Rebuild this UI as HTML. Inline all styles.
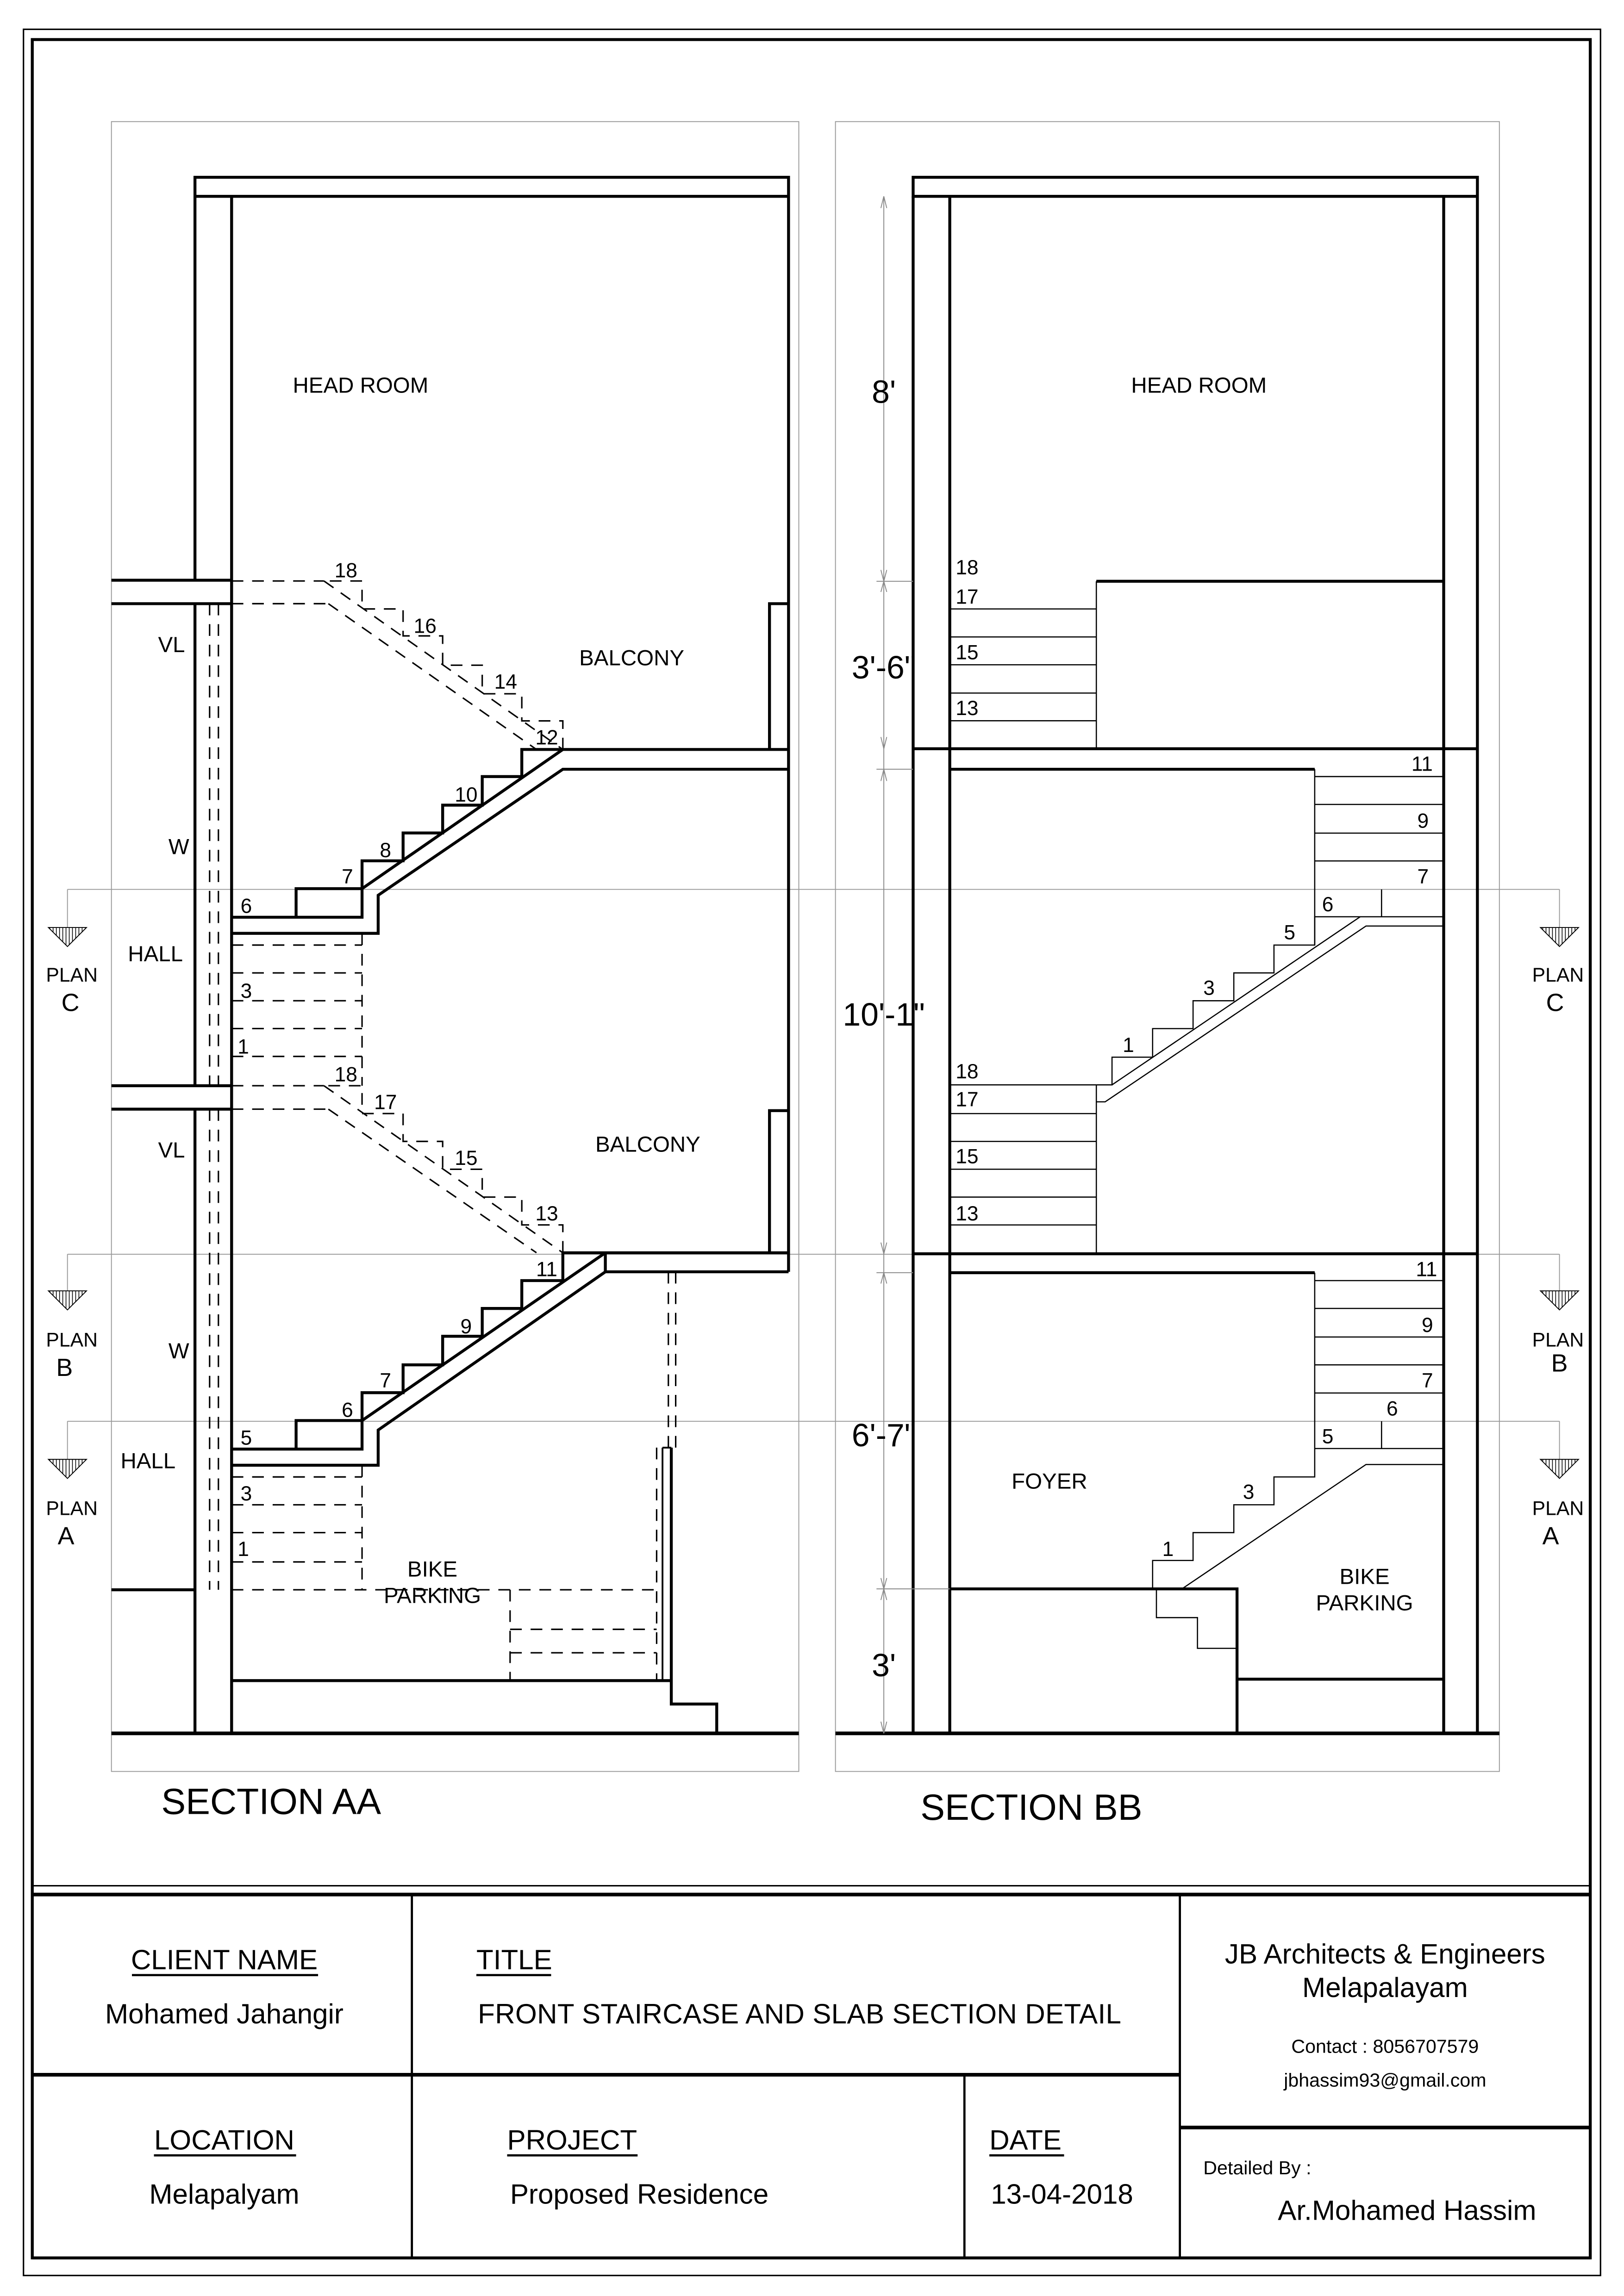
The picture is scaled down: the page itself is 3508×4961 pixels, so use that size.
<!DOCTYPE html>
<html><head><meta charset="utf-8"><style>
html,body{margin:0;padding:0;background:#fff}
svg{display:block}
text{font-family:"Liberation Sans",Arial,sans-serif;fill:#000}
</style></head><body>
<svg width="3508" height="4961" viewBox="0 0 1108 1567" xmlns="http://www.w3.org/2000/svg">
<defs>
<pattern id="h" width="2.2" height="10" patternUnits="userSpaceOnUse"><line x1="1" y1="0" x2="1" y2="10" stroke="#000" stroke-width="0.5"/></pattern>
</defs>
<rect width="1108" height="1567" fill="#fff"/>
<g fill="none" stroke="#000">
<rect x="16" y="20" width="1076" height="1533" stroke-width="1"/>
<rect x="22" y="27" width="1063" height="1514" stroke-width="2"/>
<line x1="22" y1="1287" x2="1085" y2="1287" stroke-width="1"/>
<line x1="22" y1="1293" x2="1085" y2="1293" stroke-width="2.5"/>
<line x1="22" y1="1416" x2="805" y2="1416" stroke-width="2.5"/>
<line x1="805" y1="1452" x2="1085" y2="1452" stroke-width="2.5"/>
<line x1="281" y1="1293" x2="281" y2="1541" stroke-width="1.5"/>
<line x1="805" y1="1293" x2="805" y2="1541" stroke-width="1.5"/>
<line x1="658" y1="1416" x2="658" y2="1541" stroke-width="1.5"/>
<line x1="22" y1="1541" x2="1085" y2="1541" stroke-width="2"/>
</g>
<g fill="none" stroke="#999" stroke-width="0.6">
<rect x="76" y="83" width="469" height="1126"/>
<rect x="570" y="83" width="453" height="1126"/>
<line x1="46" y1="607" x2="1064" y2="607"/>
<line x1="46" y1="856" x2="1064" y2="856"/>
<line x1="46" y1="970" x2="1064" y2="970"/>
<line x1="46" y1="607" x2="46" y2="633"/><line x1="46" y1="856" x2="46" y2="881"/><line x1="46" y1="970" x2="46" y2="996"/>
<line x1="1064" y1="607" x2="1064" y2="633"/><line x1="1064" y1="856" x2="1064" y2="881"/><line x1="1064" y1="970" x2="1064" y2="996"/>
</g>
<g stroke="#000" stroke-width="0.6" fill="url(#h)">
<polygon points="33,633 59,633 46,646"/><polygon points="33,881 59,881 46,894"/><polygon points="33,996 59,996 46,1009"/>
<polygon points="1051,633 1077,633 1064,646"/><polygon points="1051,881 1077,881 1064,894"/><polygon points="1051,996 1077,996 1064,1009"/>
</g>
<g font-size="13.5" text-anchor="middle">
<text x="49" y="670">PLAN</text><text x="49" y="919">PLAN</text><text x="49" y="1034">PLAN</text>
<text x="1063" y="670">PLAN</text><text x="1063" y="919">PLAN</text><text x="1063" y="1034">PLAN</text>
</g>
<g font-size="17" text-anchor="middle">
<text x="48" y="690">C</text><text x="44" y="939">B</text><text x="45" y="1054">A</text>
<text x="1061" y="690">C</text><text x="1064" y="936">B</text><text x="1058" y="1054">A</text>
</g>

<g fill="none" stroke="#000" stroke-width="2">
<rect x="133" y="121" width="405" height="13"/>
<line x1="133" y1="134" x2="133" y2="396"/><line x1="133" y1="412" x2="133" y2="741"/><line x1="133" y1="757" x2="133" y2="1183"/>
<line x1="158" y1="134" x2="158" y2="1183"/>
<line x1="538" y1="134" x2="538" y2="868"/>
<line x1="76" y1="396" x2="158" y2="396"/><line x1="76" y1="412" x2="158" y2="412"/>
<line x1="76" y1="741" x2="158" y2="741"/><line x1="76" y1="757" x2="158" y2="757"/>
<line x1="76" y1="1085" x2="133" y2="1085"/>
<line x1="76" y1="1183" x2="545" y2="1183" stroke-width="2.5"/>
<polyline points="525,511.5 525,412 538,412"/>
<polyline points="525,855 525,758 538,758"/>
<polyline points="158,626 247,626 247,587.5 275,587.5 275,568.5 302,568.5 302,549.5 329,549.5 329,530 356,530 356,511.5 538,511.5"/>
<polyline points="202,626 202,606.5 247,606.5"/>
<line x1="247" y1="606.5" x2="384" y2="511.5"/>
<polyline points="158,637 258,637 258,611 384,525 538,525"/>
<polyline points="158,989 247,989 247,950.5 275,950.5 275,931.5 302,931.5 302,912 329,912 329,893 356,893 356,874 384,874 384,855 538,855"/>
<polyline points="202,989 202,969.5 247,969.5"/>
<line x1="247" y1="969.5" x2="413" y2="855"/>
<polyline points="158,1000 258,1000 258,976 413,868 538,868"/>
<line x1="413" y1="855" x2="413" y2="868"/>
<line x1="158" y1="1147" x2="458" y2="1147"/>
<polyline points="458,988 458,1163 489,1163 489,1183"/>
<line x1="452" y1="988" x2="452" y2="1147" stroke-width="1.2"/>
<line x1="452" y1="988" x2="458" y2="988" stroke-width="1.2"/>
</g>
<g fill="none" stroke="#000" stroke-width="1" stroke-dasharray="8,6">
<line x1="158" y1="396.5" x2="221" y2="396.5"/><line x1="158" y1="412" x2="224" y2="412"/>
<polyline points="384,511.5 384,492 356,492 356,473.5 329,473.5 329,454 302,454 302,434 275,434 275,415.6 247,415.6 247,396.5 221,396.5"/>
<line x1="221" y1="396.5" x2="384" y2="511.5"/><line x1="224" y1="412" x2="366" y2="511.5"/>
<line x1="158" y1="741" x2="221" y2="741"/><line x1="158" y1="757" x2="224" y2="757"/>
<polyline points="384,855 384,836 356,836 356,817 329,817 329,798 302,798 302,779 275,779 275,760 247,760 247,741 221,741"/>
<line x1="221" y1="741" x2="384" y2="855"/><line x1="224" y1="757" x2="366" y2="855"/>
<line x1="158" y1="645" x2="247" y2="645"/><line x1="158" y1="664" x2="247" y2="664"/><line x1="158" y1="683" x2="247" y2="683"/><line x1="158" y1="702" x2="247" y2="702"/><line x1="158" y1="721" x2="247" y2="721"/>
<line x1="247" y1="637" x2="247" y2="741"/>
<line x1="158" y1="1008" x2="247" y2="1008"/><line x1="158" y1="1027" x2="247" y2="1027"/><line x1="158" y1="1046" x2="247" y2="1046"/><line x1="158" y1="1066" x2="247" y2="1066"/>
<line x1="247" y1="1000" x2="247" y2="1085"/>
<line x1="158" y1="1085" x2="448" y2="1085"/>
<line x1="348" y1="1112" x2="448" y2="1112"/><line x1="348" y1="1128" x2="448" y2="1128"/>
<line x1="348" y1="1085" x2="348" y2="1147"/>
<line x1="448" y1="988" x2="448" y2="1147"/>
<line x1="456" y1="868" x2="456" y2="988"/><line x1="461" y1="868" x2="461" y2="988"/>
<line x1="143" y1="412" x2="143" y2="741"/><line x1="149" y1="412" x2="149" y2="741"/>
<line x1="143" y1="757" x2="143" y2="1085"/><line x1="149" y1="757" x2="149" y2="1085"/>
</g>
<g font-size="15" text-anchor="middle">
<text x="246" y="268">HEAD ROOM</text>
<text x="431" y="454">BALCONY</text><text x="442" y="786">BALCONY</text>
<text x="117" y="445">VL</text><text x="117" y="790">VL</text>
<text x="122" y="583">W</text><text x="122" y="927">W</text>
<text x="106" y="656">HALL</text><text x="101" y="1002">HALL</text>
<text x="295" y="1076">BIKE</text><text x="295" y="1094">PARKING</text>
<text x="818" y="268">HEAD ROOM</text>
<text x="716" y="1016">FOYER</text>
<text x="931" y="1081">BIKE</text><text x="931" y="1099">PARKING</text>
</g>
<g font-size="14" text-anchor="middle">
<text x="236" y="394">18</text><text x="290" y="432">16</text><text x="345" y="470">14</text><text x="373" y="508">12</text>
<text x="318" y="547">10</text><text x="263" y="585">8</text><text x="237" y="603">7</text><text x="168" y="623">6</text>
<text x="168" y="681">3</text><text x="166" y="719">1</text>
<text x="236" y="738">18</text><text x="263" y="757">17</text><text x="318" y="795">15</text><text x="373" y="833">13</text>
<text x="373" y="871">11</text><text x="318" y="910">9</text><text x="263" y="947">7</text><text x="237" y="967">6</text><text x="168" y="986">5</text>
<text x="168" y="1024">3</text><text x="166" y="1062">1</text>
</g>

<g fill="none" stroke="#000" stroke-width="2">
<rect x="623" y="121" width="385" height="13"/>
<line x1="623" y1="134" x2="623" y2="1183"/>
<line x1="648" y1="134" x2="648" y2="1183"/>
<line x1="985" y1="134" x2="985" y2="1183"/>
<line x1="1008" y1="134" x2="1008" y2="1183"/>
<line x1="748" y1="396.7" x2="985" y2="396.7"/>
<line x1="623" y1="511" x2="1008" y2="511"/>
<line x1="648" y1="525" x2="897" y2="525"/>
<line x1="623" y1="855.7" x2="1008" y2="855.7"/>
<line x1="648" y1="868.6" x2="897" y2="868.6"/>
<polyline points="648,1084.4 844,1084.4 844,1183"/>
<line x1="844" y1="1146" x2="985" y2="1146"/>
<line x1="570" y1="1183" x2="1023" y2="1183" stroke-width="2.5"/>
</g>
<g fill="none" stroke="#000" stroke-width="0.8">
<line x1="648" y1="415.6" x2="748" y2="415.6"/><line x1="648" y1="434.7" x2="748" y2="434.7"/><line x1="648" y1="453.7" x2="748" y2="453.7"/><line x1="648" y1="473" x2="748" y2="473"/><line x1="648" y1="491.9" x2="748" y2="491.9"/>
<line x1="748" y1="396.7" x2="748" y2="511"/>
<line x1="648" y1="740.4" x2="748" y2="740.4"/><line x1="648" y1="760" x2="748" y2="760"/><line x1="648" y1="779" x2="748" y2="779"/><line x1="648" y1="798" x2="748" y2="798"/><line x1="648" y1="817" x2="748" y2="817"/><line x1="648" y1="836" x2="748" y2="836"/>
<line x1="748" y1="740.4" x2="748" y2="855.7"/>
<polyline points="748,740.4 758.7,740.4 758.7,721.5 786.4,721.5 786.4,702 814,702 814,683 841.8,683 841.8,664 869.2,664 869.2,645 897,645 897,625.7 985,625.7"/>
<line x1="897" y1="525" x2="897" y2="645"/>
<line x1="942.6" y1="607" x2="942.6" y2="625.7"/>
<line x1="758.7" y1="740.4" x2="928" y2="625.7"/>
<polyline points="748,752 754,752 932,632 985,632"/>
<line x1="897" y1="530" x2="985" y2="530"/><line x1="897" y1="549" x2="985" y2="549"/><line x1="897" y1="568.6" x2="985" y2="568.6"/><line x1="897" y1="587.6" x2="985" y2="587.6"/>
<line x1="897" y1="874" x2="985" y2="874"/><line x1="897" y1="893" x2="985" y2="893"/><line x1="897" y1="912.5" x2="985" y2="912.5"/><line x1="897" y1="931.5" x2="985" y2="931.5"/><line x1="897" y1="950.7" x2="985" y2="950.7"/><line x1="897" y1="988.6" x2="985" y2="988.6"/>
<line x1="942.6" y1="970" x2="942.6" y2="988.6"/>
<polyline points="897,868.6 897,1008 869.2,1008 869.2,1027 841.8,1027 841.8,1046 814,1046 814,1065 786.4,1065 786.4,1084.4"/>
<polyline points="806.4,1084.4 932,999.5 985,999.5"/>
<polyline points="789,1084.4 789,1104 817,1104 817,1125 844,1125"/>
</g>
<g fill="none" stroke="#888" stroke-width="0.6">
<line x1="603" y1="134" x2="603" y2="1183"/>
<line x1="598" y1="396.7" x2="623" y2="396.7"/><line x1="598" y1="525" x2="623" y2="525"/><line x1="598" y1="868.6" x2="623" y2="868.6"/><line x1="598" y1="1084.4" x2="648" y2="1084.4"/>
<polyline points="601,142 603,134 605,142"/><polyline points="601,389 603,396.7 605,389"/><polyline points="601,404 603,396.7 605,404"/>
<polyline points="601,503 603,511 605,503"/><polyline points="601,533 603,525 605,533"/>
<polyline points="601,848 603,855.7 605,848"/><polyline points="601,876 603,868.6 605,876"/>
<polyline points="601,1077 603,1084.4 605,1077"/><polyline points="601,1092 603,1084.4 605,1092"/><polyline points="601,1175 603,1183 605,1175"/>
</g>
<g font-size="22" text-anchor="middle">
<text x="603" y="275">8'</text><text x="603" y="463">3'-6"</text><text x="603" y="700">10'-1"</text><text x="603" y="987">6'-7"</text><text x="603" y="1144">3'</text>
</g>
<g font-size="14">
<text x="652" y="392">18</text><text x="652" y="412">17</text><text x="652" y="450">15</text><text x="652" y="488">13</text>
<text x="652" y="736">18</text><text x="652" y="755">17</text><text x="652" y="794">15</text><text x="652" y="833">13</text>
<text x="963" y="526">11</text><text x="967" y="565">9</text><text x="967" y="603">7</text><text x="902" y="622">6</text><text x="876" y="641">5</text><text x="821" y="679">3</text><text x="766" y="718">1</text>
<text x="966" y="871">11</text><text x="970" y="909">9</text><text x="970" y="947">7</text><text x="946" y="966">6</text><text x="902" y="985">5</text><text x="848" y="1023">3</text><text x="793" y="1062">1</text>
</g>
<g font-size="25">
<text x="110" y="1238">SECTION AA</text>
<text x="628" y="1242">SECTION BB</text>
</g>
<g font-size="19" text-anchor="middle">
<text x="153" y="1344">CLIENT NAME</text>
<text x="153" y="1381">Mohamed Jahangir</text>
<text x="153" y="1467">LOCATION</text>
<text x="153" y="1504">Melapalyam</text>
<text x="945" y="1340">JB Architects &amp; Engineers</text>
<text x="945" y="1363">Melapalayam</text>
<text x="960" y="1515">Ar.Mohamed Hassim</text>
</g>
<g font-size="19">
<text x="325" y="1344">TITLE</text>
<text x="326" y="1381" textLength="439">FRONT STAIRCASE AND SLAB SECTION DETAIL</text>
<text x="346" y="1467">PROJECT</text>
<text x="348" y="1504">Proposed Residence</text>
<text x="675" y="1467">DATE</text>
<text x="676" y="1504">13-04-2018</text>
</g>
<g font-size="13" text-anchor="middle">
<text x="945" y="1401">Contact : 8056707579</text>
<text x="945" y="1424">jbhassim93@gmail.com</text>
</g>
<text x="821" y="1484" font-size="13">Detailed By :</text>
<g stroke="#000" stroke-width="1.5">
<line x1="90" y1="1348" x2="217" y2="1348"/>
<line x1="325" y1="1348" x2="376" y2="1348"/>
<line x1="105" y1="1471" x2="202" y2="1471"/>
<line x1="346" y1="1471" x2="435" y2="1471"/>
<line x1="675" y1="1471" x2="726" y2="1471"/>
</g>
</svg>
</body></html>
